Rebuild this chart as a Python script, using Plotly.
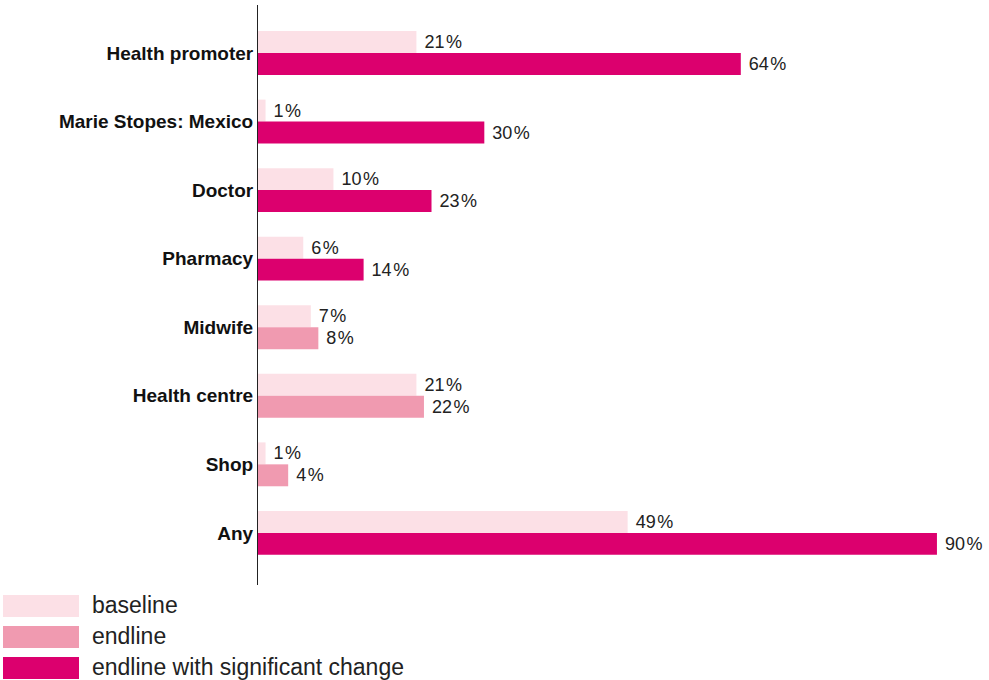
import plotly.graph_objects as go

categories = ["Health promoter", "Marie Stopes: Mexico", "Doctor", "Pharmacy",
              "Midwife", "Health centre", "Shop", "Any"]
baseline = [21, 1, 10, 6, 7, 21, 1, 49]
endline = [64, 30, 23, 14, 8, 22, 4, 90]
significant = [True, True, True, True, False, False, False, True]

C_BASE = "#FCE0E6"
C_END = "#F09AB0"
C_SIG = "#DC006E"

end_colors = [C_SIG if s else C_END for s in significant]
FONT = "Liberation Sans, Arial"


def labels(vals):
    return [f"\u00a0{v}\u200a%" for v in vals]


fig = go.Figure()
fig.add_trace(go.Bar(
    y=categories, x=baseline, orientation="h", name="baseline",
    marker=dict(color=C_BASE, line=dict(width=0)),
    text=labels(baseline), textposition="outside",
    textfont=dict(family=FONT, size=18, color="#222"),
    cliponaxis=False, showlegend=False,
))
fig.add_trace(go.Bar(
    y=categories, x=endline, orientation="h", name="endline",
    marker=dict(color=end_colors, line=dict(width=0)),
    text=labels(endline), textposition="outside",
    textfont=dict(family=FONT, size=18, color="#222"),
    cliponaxis=False, showlegend=False,
))

# layout geometry
H = 680
top, bottom = 5, 95
plot_h = H - top - bottom


def py(pix):
    return (H - bottom - pix) / plot_h


legend_items = [("baseline", C_BASE), ("endline", C_END),
                ("endline with significant change", C_SIG)]
shapes = []
annotations = []
for i, (lab, col) in enumerate(legend_items):
    y0 = 595 + i * 31
    shapes.append(dict(type="rect", xref="paper", yref="paper",
                       x0=-255 / 731, x1=-179 / 731, y0=py(y0 + 22), y1=py(y0),
                       fillcolor=col, line=dict(width=0), layer="above"))
    annotations.append(dict(xref="paper", yref="paper", x=-168 / 731, y=py(y0 + 10),
                            text=lab, showarrow=False, xanchor="left", yanchor="middle",
                            font=dict(family=FONT, size=23, color="#222")))

fig.update_layout(
    width=989, height=680,
    margin=dict(l=258, r=0, t=top, b=bottom),
    paper_bgcolor="white", plot_bgcolor="white",
    barmode="group", bargap=0.36, bargroupgap=0,
    xaxis=dict(range=[0, 96.9], visible=False, fixedrange=True),
    yaxis=dict(range=[7.76, -0.70], showline=True, linecolor="#222", linewidth=1,
               ticks="", showgrid=False, zeroline=False,
               tickfont=dict(family=FONT, size=19, color="#111", weight="bold")),
    shapes=shapes, annotations=annotations,
    showlegend=False,
)

fig.write_html("out.html")
